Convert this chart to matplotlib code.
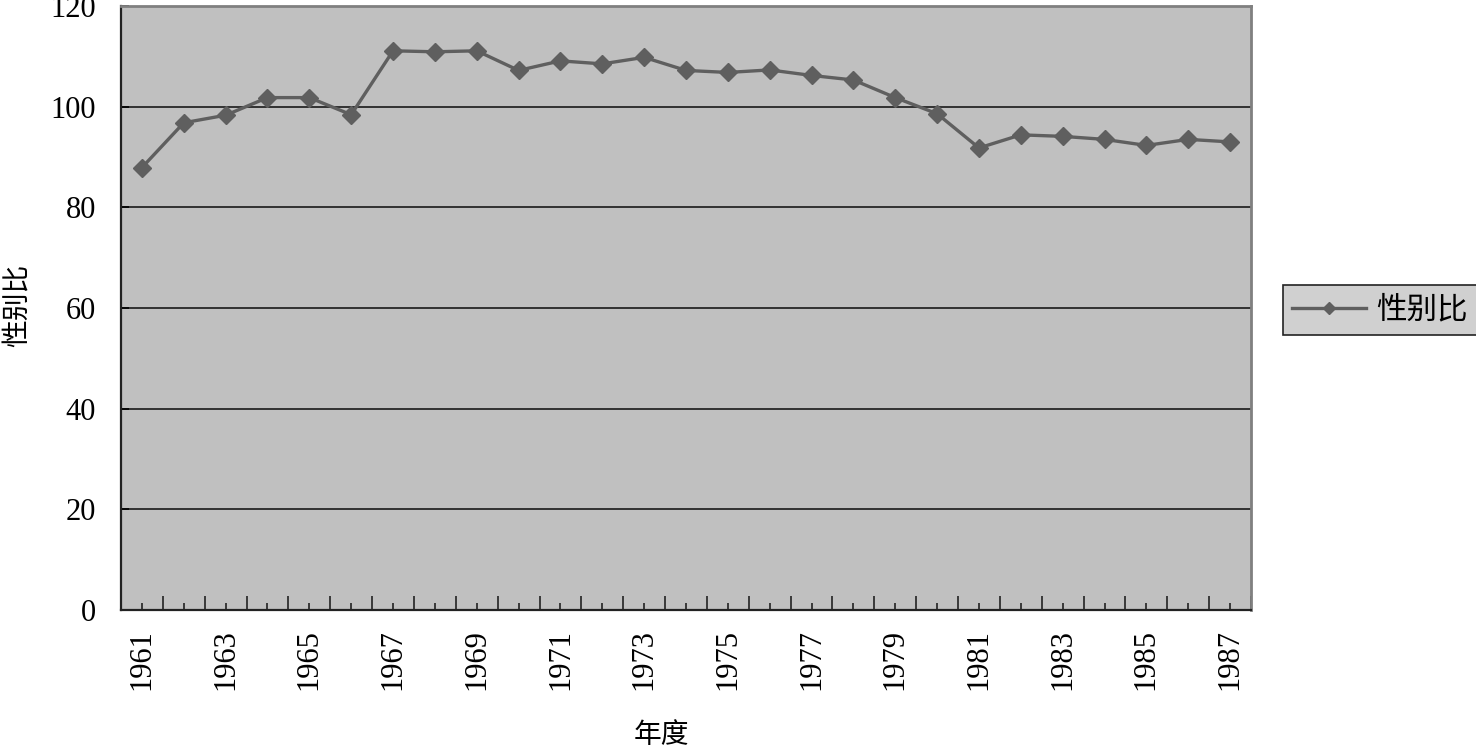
#! python3
# sex ratio by year, excel-style line chart

import matplotlib.pyplot as plt
import numpy as np

years = list(range(1961, 1988))
sex_ratio = [87.9, 96.8, 98.3, 101.8, 101.8, 98.4, 111.1, 110.9, 111.1, 107.2,
             109.1, 108.5, 109.8, 107.2, 106.8, 107.3, 106.2, 105.3, 101.8, 98.6,
             91.8, 94.4, 94.1, 93.5, 92.3, 93.5, 93.0]
year_labels = [str(y) if (y - 1961) % 2 == 0 else "" for y in years]
y_ticks = [0, 20, 40, 60, 80, 100, 120]

cjk = ["Noto Sans CJK SC", "DejaVu Sans"]
serif = "Liberation Serif"
line_color = "#5f5f5f"

fig = plt.figure(figsize=(14.76, 7.5), dpi=100)
ax = fig.add_axes([121 / 1476, 140 / 750, 1130 / 1476, 604 / 750])
ax.set_facecolor("#c0c0c0")

x = np.arange(len(years))
ax.plot(x, sex_ratio, color=line_color, lw=2.4, marker="D", ms=9.5,
        mfc=line_color, mec=line_color, label="性别比", zorder=3)

ax.set_xlim(-0.5, len(years) - 0.5)
ax.set_ylim(0, 120)
ax.set_yticks(y_ticks)
ax.yaxis.grid(True, color="#1a1a1a", lw=1.2)
ax.set_axisbelow(True)

# boundaries get the long ticks, centres the short labelled ones
ax.set_xticks(np.arange(-0.5, len(years), 1.0))
ax.set_xticklabels([])
ax.set_xticks(x, minor=True)
ax.set_xticklabels(year_labels, minor=True, rotation=90, fontfamily=serif, fontsize=22)
ax.tick_params(axis="x", which="major", direction="in", length=10, width=1.2, color="#222222")
ax.tick_params(axis="x", which="minor", direction="in", length=5, width=1.2,
               color="#222222", pad=14)
ax.tick_params(axis="y", direction="in", length=6, width=1.2, pad=18)
for lab in ax.get_yticklabels():
    lab.set_fontfamily(serif)
    lab.set_fontsize(22)

for side in ["left", "bottom"]:
    ax.spines[side].set_color("#222222")
    ax.spines[side].set_linewidth(1.6)
for side in ["top", "right"]:
    ax.spines[side].set_color("#808080")
    ax.spines[side].set_linewidth(2)

fig.text(18 / 1476, 1 - 305 / 750, "性别比", fontfamily=cjk, fontsize=20,
         rotation=90, ha="center", va="center")
fig.text(661 / 1476, 1 - 735 / 750, "年度", fontfamily=cjk, fontsize=20,
         ha="center", va="center")

leg = ax.legend(loc="center left", bbox_to_anchor=(1283 / 1476, 1 - 310 / 750),
                bbox_transform=fig.transFigure, prop={"family": cjk, "size": 22},
                frameon=True, fancybox=False, handlelength=2.4, handletextpad=0.35,
                borderpad=0.3, borderaxespad=0, markerscale=0.6)
leg.get_frame().set_facecolor("#d0d0d0")
leg.get_frame().set_edgecolor("#222222")
leg.get_frame().set_linewidth(1.2)
leg.get_frame().set_alpha(1)

fig.savefig("out.png", dpi=100)
